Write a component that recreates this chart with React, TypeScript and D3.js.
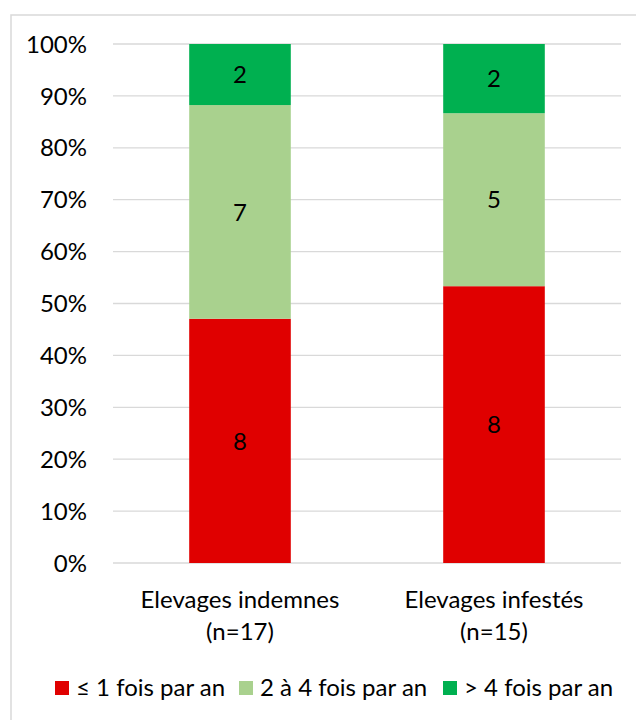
import React from "react";
import * as d3 from "d3";

const categories = ["Elevages indemnes|(n=17)", "Elevages infestés|(n=15)"];
const seriesNames = ["≤ 1 fois par an", "2 à 4 fois par an", "> 4 fois par an"];
const seriesColors = ["#e00000", "#a9d18e", "#00b050"];
const low = [8, 8];
const mid = [7, 5];
const high = [2, 2];
const yTicks = [0, 0.1, 0.2, 0.3, 0.4, 0.5, 0.6, 0.7, 0.8, 0.9, 1];

const W = 636;
const H = 720;
const FONT = "Lato, 'Open Sans', sans-serif";
const FS = 24;

export default function App() {
  const x = d3.scaleBand().domain(categories).range([113, 621]).paddingInner(0.6).paddingOuter(0.3);
  const y = d3.scaleLinear().domain([0, 1]).range([563, 44]);
  const series = [low, mid, high];
  const stacks = categories.map((c, i) => {
    const total = series.reduce((s, arr) => s + arr[i], 0);
    let acc = 0;
    return series.map((arr, k) => {
      const y0 = acc / total;
      acc += arr[i];
      return { k, y0, y1: acc / total, v: arr[i] };
    });
  });
  const fmt = d3.format(".0%");
  const legendX = [55, 239, 443];
  return (
    <svg width={W} height={H} style={{ position: "absolute", left: 0, top: 0 }}>
      <rect x={0} y={0} width={W} height={H} fill="#fff" />
      <rect x={11} y={15} width={W + 10} height={H + 10} fill="none" stroke="#d9d9d9" strokeWidth={1.5} />
      {yTicks.map((t) => (
        <g key={t}>
          <line x1={113} x2={621} y1={y(t)} y2={y(t)} stroke="#d9d9d9" strokeWidth={1.3} />
          <text x={87} y={y(t)} dy="0.36em" textAnchor="end" fontFamily={FONT} fontSize={FS} fill="#000">
            {fmt(t)}
          </text>
        </g>
      ))}
      {categories.map((c, i) => {
        const bx = x(c)!;
        const bw = x.bandwidth();
        const [l1, l2] = c.split("|");
        return (
          <g key={c}>
            {stacks[i].map((s) => (
              <g key={s.k}>
                <rect x={bx} y={y(s.y1)} width={bw} height={y(s.y0) - y(s.y1)} fill={seriesColors[s.k]} />
                <text x={bx + bw / 2} y={(y(s.y0) + y(s.y1)) / 2} dy="0.36em" textAnchor="middle" fontFamily={FONT} fontSize={FS} fill="#000">
                  {s.v}
                </text>
              </g>
            ))}
            <text x={bx + bw / 2} y={608} textAnchor="middle" fontFamily={FONT} fontSize={FS} fill="#000">{l1}</text>
            <text x={bx + bw / 2} y={640} textAnchor="middle" fontFamily={FONT} fontSize={FS} fill="#000">{l2}</text>
          </g>
        );
      })}
      {seriesNames.map((n, k) => (
        <g key={n}>
          <rect x={legendX[k]} y={681} width={14} height={14} fill={seriesColors[k]} />
          <text x={legendX[k] + 21} y={696} fontFamily={FONT} fontSize={FS} fill="#000">{n}</text>
        </g>
      ))}
    </svg>
  );
}
